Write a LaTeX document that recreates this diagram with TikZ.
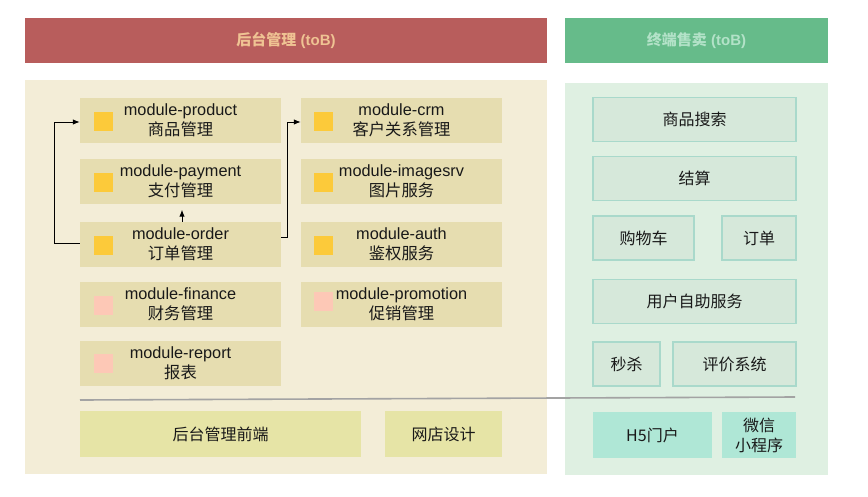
\documentclass[tikz,border=0pt]{standalone}
\usepackage{fontspec}
\setmainfont{Liberation Sans}
\newfontfamily\cjk{Noto Sans CJK SC}
\usetikzlibrary{arrows.meta}
\definecolor{hdred}{HTML}{B85D5C}
\definecolor{hdredtx}{HTML}{EFC393}
\definecolor{hdgreen}{HTML}{66BB8A}
\definecolor{hdgreentx}{HTML}{B3E2C8}
\definecolor{panbeige}{HTML}{F3EDD7}
\definecolor{modfill}{HTML}{E6DDB0}
\definecolor{sqyellow}{HTML}{FCCA3A}
\definecolor{sqpink}{HTML}{FDC8B6}
\definecolor{olivebox}{HTML}{E6E4A6}
\definecolor{pangreen}{HTML}{DFF0E2}
\definecolor{gbox}{HTML}{D6E8DA}
\definecolor{gborder}{HTML}{A9D9CB}
\definecolor{tealbox}{HTML}{AFE7D6}
\definecolor{sepgray}{HTML}{A3A3A3}
\tikzset{
  hdr/.style={fill=#1, draw=none, inner sep=0pt, minimum height=45pt, font=\fontsize{15}{18}\selectfont\bfseries},
  panel/.style={fill=#1, draw=none, inner sep=0pt},
  modbox/.style={fill=modfill, draw=none, inner sep=0pt, minimum width=201pt, minimum height=45pt, align=center, text=black!90, font=\fontsize{16.3}{20}\selectfont},
  sq/.style={fill=#1, draw=none, inner sep=0pt, minimum size=19pt},
  olbox/.style={fill=olivebox, draw=none, inner sep=0pt, minimum height=46pt, text=black!90, font=\fontsize{16}{20}\selectfont\cjk},
  gbx/.style={fill=gbox, draw=gborder, line width=1.6pt, inner sep=0pt, minimum height=44pt, text=black!90, align=center, font=\fontsize{16}{20}\selectfont\cjk},
  tbx/.style={fill=tealbox, draw=none, inner sep=0pt, minimum height=46pt, text=black!90, align=center, font=\fontsize{16}{20}\selectfont\cjk},
  conn/.style={draw=black, line width=1pt, -{Latex[length=7pt,width=5.5pt]}},
}
\begin{document}
\begin{tikzpicture}[x=1pt,y=-1pt]
\useasboundingbox[fill=white] (0,0) rectangle (868,496);
% headers
\node[hdr=hdred, minimum width=522pt, text=hdredtx] (hleft) at (286,40.5) {{\cjk 后台管理} (toB)};
\node[hdr=hdgreen, minimum width=263pt, text=hdgreentx] (hright) at (696.5,40.5) {{\cjk 终端售卖} (toB)};
% panels
\node[panel=panbeige, minimum width=522pt, minimum height=394pt] (pleft) at (286,277) {};
\node[panel=pangreen, minimum width=263pt, minimum height=392pt] (pright) at (696.5,279) {};
% left module boxes
\node[modbox] (prod) at (180.5,120.5) {module-product\\{\cjk 商品管理}};
\node[modbox] (pay) at (180.5,181) {module-payment\\{\cjk 支付管理}};
\node[modbox] (ord) at (180.5,244.5) {module-order\\{\cjk 订单管理}};
\node[modbox] (fin) at (180.5,304) {module-finance\\{\cjk 财务管理}};
\node[modbox] (rep) at (180.5,363) {module-report\\{\cjk 报表}};
\node[modbox] (crm) at (401.5,120.5) {module-crm\\{\cjk 客户关系管理}};
\node[modbox] (img) at (401.5,181) {module-imagesrv\\{\cjk 图片服务}};
\node[modbox] (auth) at (401.5,244.5) {module-auth\\{\cjk 鉴权服务}};
\node[modbox] (pro) at (401.5,304) {module-promotion\\{\cjk 促销管理}};
% squares
\node[sq=sqyellow] (sqprod) at (103.5,121.5) {};
\node[sq=sqyellow] (sqpay) at (103.5,182) {};
\node[sq=sqyellow] (sqord) at (103.5,245) {};
\node[sq=sqpink] (sqfin) at (103.5,305) {};
\node[sq=sqpink] (sqrep) at (103.5,363.5) {};
\node[sq=sqyellow] (sqcrm) at (323.5,121.5) {};
\node[sq=sqyellow] (sqimg) at (323.5,182) {};
\node[sq=sqyellow] (sqauth) at (323.5,245) {};
\node[sq=sqpink] (sqpro) at (323.5,301.5) {};
% bottom left boxes
\node[olbox, minimum width=281pt] (fe) at (220.5,434) {后台管理前端};
\node[olbox, minimum width=117pt] (shop) at (443.5,434) {网店设计};
% right boxes
\node[gbx, minimum width=203pt] (search) at (694.5,119.5) {商品搜索};
\node[gbx, minimum width=203pt] (settle) at (694.5,178.5) {结算};
\node[gbx, minimum width=101pt] (cart) at (643.5,238) {购物车};
\node[gbx, minimum width=74pt] (rorder) at (759,238) {订单};
\node[gbx, minimum width=203pt] (self) at (694.5,301.5) {用户自助服务};
\node[gbx, minimum width=67pt] (flash) at (626.5,364) {秒杀};
\node[gbx, minimum width=123pt] (review) at (734.5,364) {评价系统};
\node[tbx, minimum width=119pt] (h5) at (652.5,435) {H5门户};
\node[tbx, minimum width=74pt] (wx) at (759,435) {微信\\小程序};
% separator
\draw[sepgray, line width=1.6pt] (80,400) -- (795,397);
% connectors
\draw[conn] ([yshift=1.5pt]ord.west) -- ++(-25,0) |- ([yshift=-1.5pt]prod.west);
\draw[conn] ([yshift=7.5pt]ord.east) -- ++(6,0) |- ([yshift=-1.5pt]crm.west);
\draw[conn, shorten >=6pt] ([xshift=1.5pt]ord.north) -- ([xshift=1.5pt]pay.south);
\end{tikzpicture}
\end{document}
